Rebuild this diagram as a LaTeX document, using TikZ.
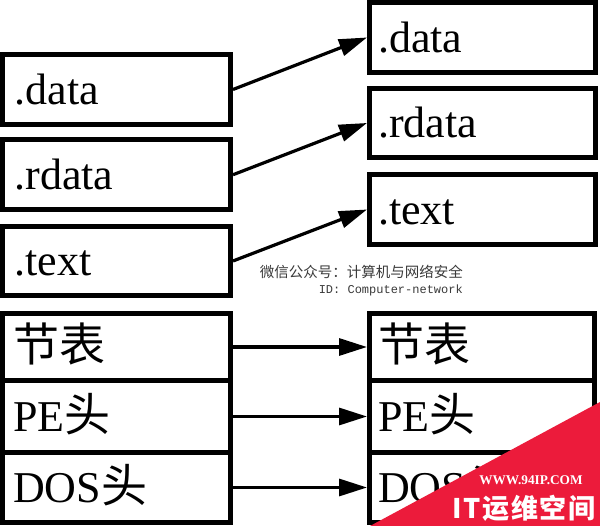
\documentclass[tikz,border=0pt]{standalone}
\usepackage{fontspec}
\setmainfont{Liberation Serif}
\setmonofont{Liberation Mono}
\newfontfamily\cjk{Noto Sans CJK SC}
\usetikzlibrary{arrows.meta}
\definecolor{wmred}{HTML}{EC1B3B}
\definecolor{wmgray}{HTML}{3A3A3A}
\begin{document}
\begin{tikzpicture}[x=1pt,y=-1pt,
  box/.style={draw, line width=5pt, rectangle, inner sep=0pt,
    font=\fontsize{44}{44}\selectfont, text height=30pt, text depth=0pt, align=left},
  lbox/.style={box, minimum width=228pt, text width=204pt},
  rbox/.style={box, minimum width=226pt, text width=209pt},
  lcell/.style={box, minimum width=228pt, text width=207pt},
  rcell/.style={box, minimum width=225pt, text width=208pt},
  arr/.style={line width=3.2pt, -{Triangle[length=28pt,width=17pt]}},
  wmtext/.style={inner sep=0pt, text=wmgray}
]
\fill[white] (0,0) rectangle (600,526);
\useasboundingbox (0,0) rectangle (600,526);

% left section boxes
\node[lbox, minimum height=70pt] (ld) at (116.5,89.5) {.data};
\node[lbox, minimum height=69.5pt] (lr) at (116.5,174.75) {.rdata};
\node[lbox, minimum height=69pt] (lt) at (116.5,261) {.text};

% right section boxes
\node[rbox, minimum height=70pt] (rd) at (482.5,37.5) {.data};
\node[rbox, minimum height=69pt] (rr) at (482.5,123) {.rdata};
\node[rbox, minimum height=70pt] (rt) at (482.5,209.5) {.text};

% left stack
\node[lcell, minimum height=67pt] (ls) at (116.5,347) {{\cjk\fontsize{46}{46}\selectfont 节表}};
\node[lcell, minimum height=72pt] (lp) at (116.5,416.5) {PE{\cjk\fontsize{46}{46}\selectfont 头}};
\node[lcell, minimum height=70pt] (lo) at (116.5,487.5) {DOS{\cjk\fontsize{46}{46}\selectfont 头}};

% right stack
\node[rcell, minimum height=67pt] (rs) at (482,347) {{\cjk\fontsize{46}{46}\selectfont 节表}};
\node[rcell, minimum height=72pt] (rp) at (482,416.5) {PE{\cjk\fontsize{46}{46}\selectfont 头}};
\node[rcell, minimum height=70pt] (ro) at (482,487.5) {DOS{\cjk\fontsize{46}{46}\selectfont 头}};

% arrows
\draw[arr] (ld.east) -- (rd.west);
\draw[arr] (lr.east) -- (rr.west);
\draw[arr] (lt.east) -- (rt.west);
\draw[arr] (ls.east) -- (rs.west);
\draw[arr] (lp.east) -- (rp.west);
\draw[arr] (lo.east) -- (ro.west);

% gray caption
\node[wmtext, anchor=east, font=\cjk\fontsize{14.5}{15}\selectfont] (wm1) at (463,272) {微信公众号：计算机与网络安全};
\node[wmtext, anchor=east, font=\ttfamily\fontsize{12}{12}\selectfont] (wm2) at (463,290) {ID: Computer-network};

% red corner
\fill[wmred] (370,526) -- (600,526) -- (600,402) -- cycle;
\node[inner sep=0pt, text=white, font=\bfseries\fontsize{13.3}{14}\selectfont] (site) at (531,480) {WWW.94IP.COM};
\node[inner sep=0pt, text=white, font=\cjk\bfseries\fontsize{27}{27}\selectfont\addfontfeature{LetterSpace=6}] (brand) at (524,508) {IT运维空间};
\end{tikzpicture}
\end{document}
